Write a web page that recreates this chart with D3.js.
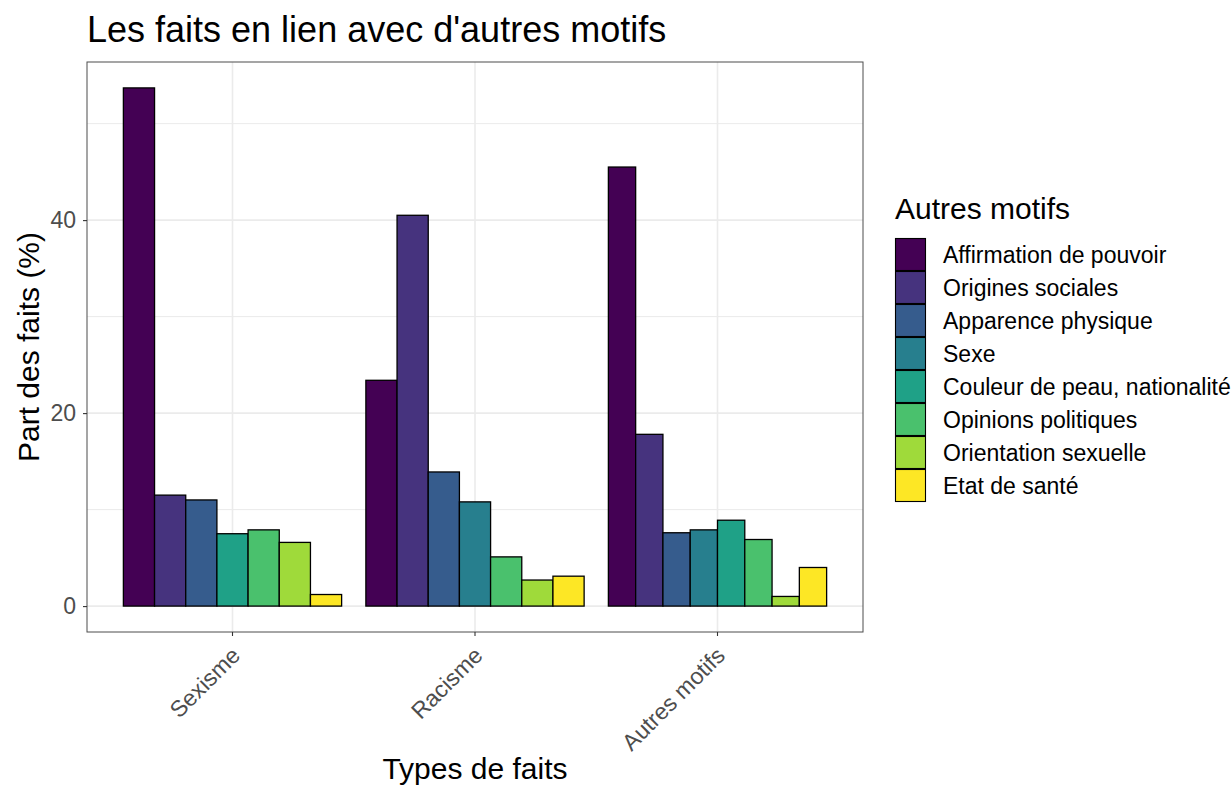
<!DOCTYPE html>
<html lang="fr">
<head>
<meta charset="UTF-8">
<script src="https://d3js.org/d3.v7.min.js"></script>
<style>
  body { margin: 0; background: white; }
  text { font-family: "Liberation Sans", Arial, sans-serif; }
</style>
</head>
<body>
<div id="chart"></div>
<script>
// categories on the x axis
const types = ["Sexisme", "Racisme", "Autres motifs"];
// legend groups (fill)
const motifs = ["Affirmation de pouvoir", "Origines sociales", "Apparence physique", "Sexe",
                "Couleur de peau, nationalité", "Opinions politiques", "Orientation sexuelle", "Etat de santé"];
const colors = ["#440154", "#46337E", "#365C8D", "#277F8E", "#1FA187", "#4AC16D", "#9FDA3A", "#FDE725"];
// percentages per type, in motif order (null = absent)
const sexisme  = [53.7, 11.5, 11.0, null, 7.5, 7.9, 6.6, 1.2];
const racisme  = [23.4, 40.5, 13.9, 10.8, null, 5.1, 2.7, 3.1];
const autres   = [45.5, 17.8, 7.6, 7.9, 8.9, 6.9, 1.0, 4.0];
const yTicks = [0, 20, 40];
const yMinor = [10, 30, 50];

const values = [sexisme, racisme, autres];

const W = 1232, H = 786;
const pLeft = 87, pRight = 863, pTop = 62, pBottom = 632;

const svg = d3.select("#chart").append("svg").attr("width", W).attr("height", H);

var x = d3.scaleBand().domain(types).range([pLeft, pRight]).paddingInner(0.1).paddingOuter(0.15);
var maxV = d3.max(values.flat());
var pad = maxV * 0.05;
var y = d3.scaleLinear().domain([-pad, maxV + pad]).range([pBottom, pTop]);

// panel grid
const grid = svg.append("g");
grid.selectAll(".minor").data(yMinor).enter().append("line")
  .attr("x1", pLeft).attr("x2", pRight)
  .attr("y1", d => y(d)).attr("y2", d => y(d))
  .attr("stroke", "#ebebeb").attr("stroke-width", 1);
grid.selectAll(".major").data(yTicks).enter().append("line")
  .attr("x1", pLeft).attr("x2", pRight)
  .attr("y1", d => y(d)).attr("y2", d => y(d))
  .attr("stroke", "#ebebeb").attr("stroke-width", 1.6);
grid.selectAll(".vmajor").data(types).enter().append("line")
  .attr("y1", pTop).attr("y2", pBottom)
  .attr("x1", d => x(d) + x.bandwidth() / 2).attr("x2", d => x(d) + x.bandwidth() / 2)
  .attr("stroke", "#ebebeb").attr("stroke-width", 1.6);

// bars
types.forEach(function(t, i) {
  var present = motifs.filter((m, j) => values[i][j] != null);
  var inner = d3.scaleBand().domain(present).range([x(t), x(t) + x.bandwidth()]);
  svg.append("g").selectAll("rect")
    .data(present)
    .enter().append("rect")
    .attr("x", d => inner(d))
    .attr("width", inner.bandwidth())
    .attr("y", d => y(values[i][motifs.indexOf(d)]))
    .attr("height", d => y(0) - y(values[i][motifs.indexOf(d)]))
    .attr("fill", d => colors[motifs.indexOf(d)])
    .attr("stroke", "black").attr("stroke-width", 1.3);
});

// panel border
svg.append("rect").attr("x", pLeft).attr("y", pTop)
  .attr("width", pRight - pLeft).attr("height", pBottom - pTop)
  .attr("fill", "none").attr("stroke", "#4d4d4d").attr("stroke-width", 1);

// y axis
const yAxis = svg.append("g").attr("transform", "translate(" + pLeft + ",0)")
  .call(d3.axisLeft(y).tickValues(yTicks).tickSize(4).tickPadding(7));
yAxis.select(".domain").remove();
yAxis.selectAll("line").attr("stroke", "#333").attr("stroke-width", 1.1);
yAxis.selectAll("text").attr("fill", "#4d4d4d").style("font-size", "23px")
  .style("font-family", "Liberation Sans, Arial, sans-serif");

// x axis
const xAxis = svg.append("g").attr("transform", "translate(0," + pBottom + ")")
  .call(d3.axisBottom(x).tickSize(4));
xAxis.select(".domain").remove();
xAxis.selectAll("line").attr("stroke", "#333").attr("stroke-width", 1.1);
xAxis.selectAll("text")
  .attr("fill", "#4d4d4d").style("font-size", "23px")
  .style("font-family", "Liberation Sans, Arial, sans-serif")
  .attr("text-anchor", "end").attr("dy", null).attr("y", 0)
  .attr("transform", "translate(9,25) rotate(-45)");

// titles
svg.append("text").attr("x", pLeft).attr("y", 42)
  .style("font-size", "36px").attr("fill", "black")
  .text("Les faits en lien avec d'autres motifs");
svg.append("text").attr("x", (pLeft + pRight) / 2).attr("y", 779)
  .attr("text-anchor", "middle").style("font-size", "30px")
  .text("Types de faits");
svg.append("text")
  .attr("transform", "translate(39," + (pTop + pBottom) / 2 + ") rotate(-90)")
  .attr("text-anchor", "middle").style("font-size", "30px")
  .text("Part des faits (%)");

// legend
const lg = svg.append("g").attr("transform", "translate(895,0)");
lg.append("text").attr("x", 0).attr("y", 219).style("font-size", "30px").text("Autres motifs");
const items = lg.selectAll(".item").data(motifs).enter().append("g")
  .attr("transform", (d, i) => "translate(0," + (238 + i * 33) + ")");
items.append("rect").attr("x", 0.5).attr("y", 0.5).attr("width", 30).attr("height", 32)
  .attr("fill", (d, i) => colors[i]).attr("stroke", "black").attr("stroke-width", 1.1);
items.append("text").attr("x", 48).attr("y", 25).style("font-size", "23px").text(d => d);
</script>
</body>
</html>
